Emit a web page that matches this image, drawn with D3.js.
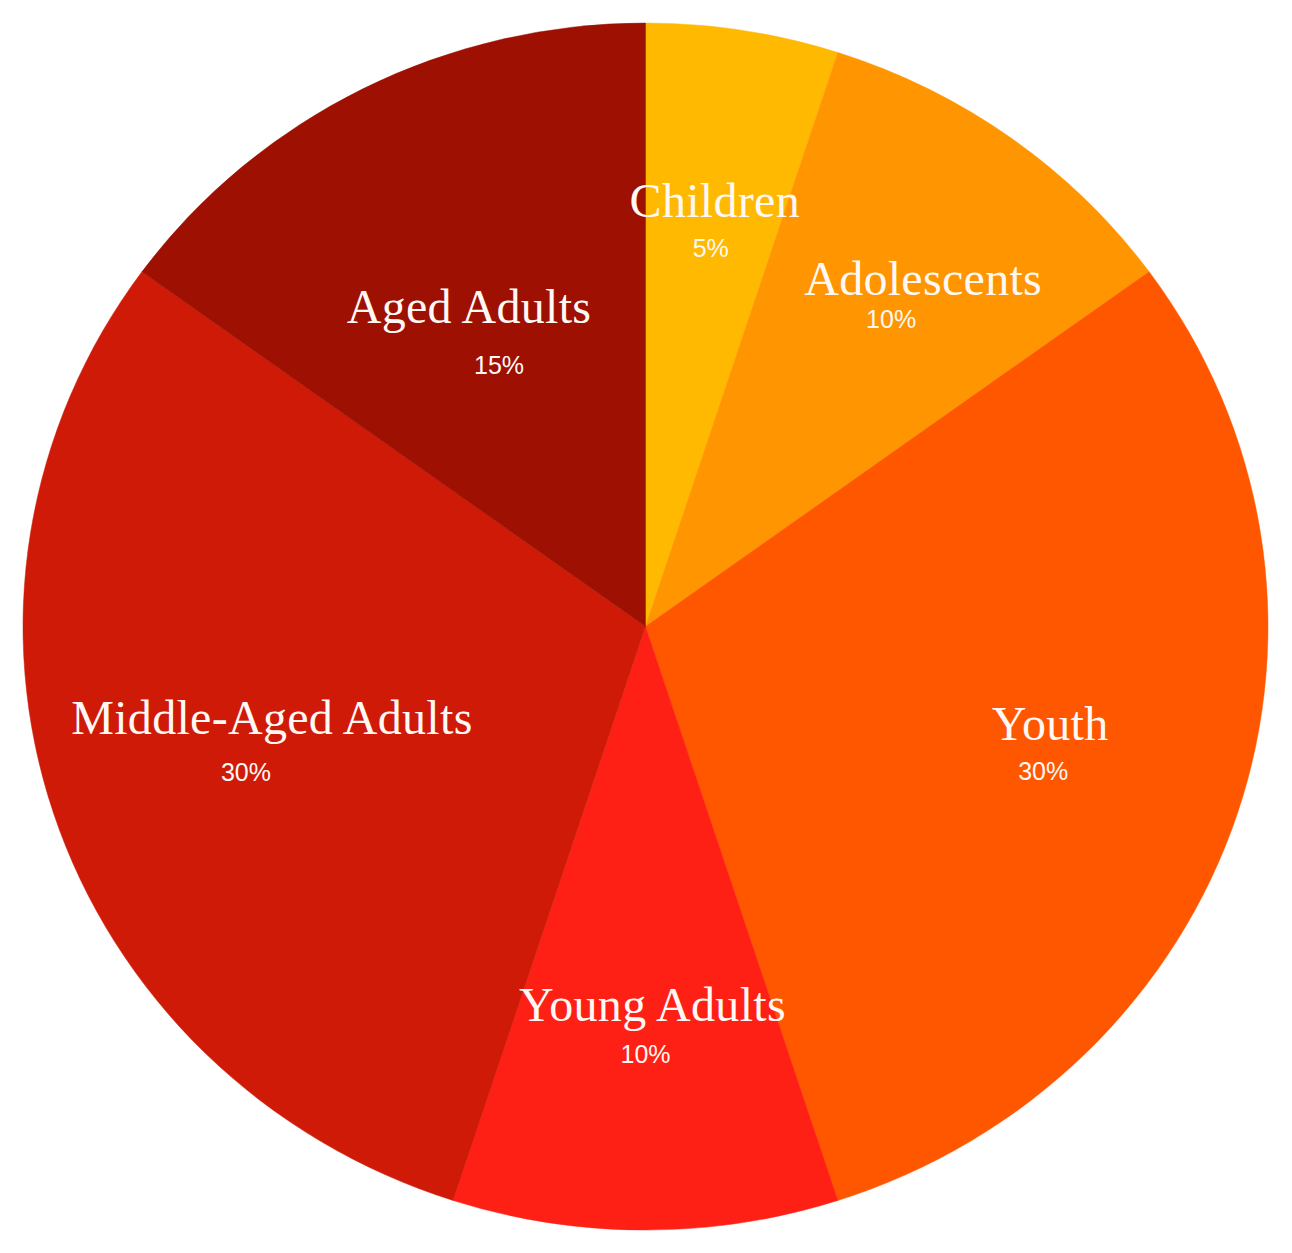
<!DOCTYPE html>
<html>
<head>
<meta charset="utf-8">
<script src="https://cdn.jsdelivr.net/npm/d3@7"></script>
<style>
  body { margin: 0; background: #fff; }
  svg { display: block; }
</style>
</head>
<body>
<svg width="1292" height="1253"></svg>
<script>
const categories = ["Children", "Adolescents", "Youth", "Young Adults", "Middle-Aged Adults", "Aged Adults"];
const shares = [5, 10, 30, 10, 30, 15];
const colors = ["#FFB900", "#FF9500", "#FF5600", "#FF2015", "#D01A08", "#9D1002"];

// where the labels sit: percent label in polar coords, name nudged from it
const labelLayout = [
  { r: 376, a: 10, dx: 4, gap: 40 },
  { r: 387, a: 39.4, dx: 32, gap: 33 },
  { r: 426, a: 111, dx: 7, gap: 40 },
  { r: 435, a: 180, dx: 7, gap: 42 },
  { r: 428, a: 249, dx: 26, gap: 47 },
  { r: 293, a: 330, dx: -30, gap: 51 }
];

const svg = d3.select("svg");
const cx = 645.5, cy = 626.5;
const rx = 622.5, ry = 603.5;

const data = categories.map((c, i) => ({ name: c, value: shares[i], color: colors[i] }));

const pie = d3.pie().value(d => d.value).sort(null);
const arc = d3.arc().innerRadius(0).outerRadius(rx);

const arcs = pie(data);

svg.append("g")
  .attr("transform", `translate(${cx},${cy}) scale(1,${ry / rx})`)
  .selectAll("path")
  .data(arcs)
  .enter()
  .append("path")
  .attr("d", arc)
  .attr("fill", d => d.data.color)
  .attr("stroke", d => d.data.color)
  .attr("stroke-width", 0.5);

const labels = svg.append("g").attr("transform", `translate(${cx},${cy})`);

arcs.forEach((d, i) => {
  const L = labelLayout[i];
  const t = L.a * Math.PI / 180;
  const px = L.r * Math.sin(t);
  const py = -L.r * Math.cos(t);

  labels.append("text")
    .attr("x", px + L.dx)
    .attr("y", py - L.gap + 1)
    .attr("text-anchor", "middle")
    .attr("fill", "#fff8f4")
    .style("font-family", "'Liberation Serif', 'Times New Roman', serif")
    .style("font-size", "48px")
    .style("letter-spacing", "0.3px")
    .text(d.data.name);

  labels.append("text")
    .attr("x", px)
    .attr("y", py + 1)
    .attr("text-anchor", "middle")
    .attr("fill", "#fff8f4")
    .style("font-family", "'Liberation Sans', Arial, sans-serif")
    .style("font-size", "25px")
    .text(d.data.value + "%");
});
</script>
</body>
</html>
